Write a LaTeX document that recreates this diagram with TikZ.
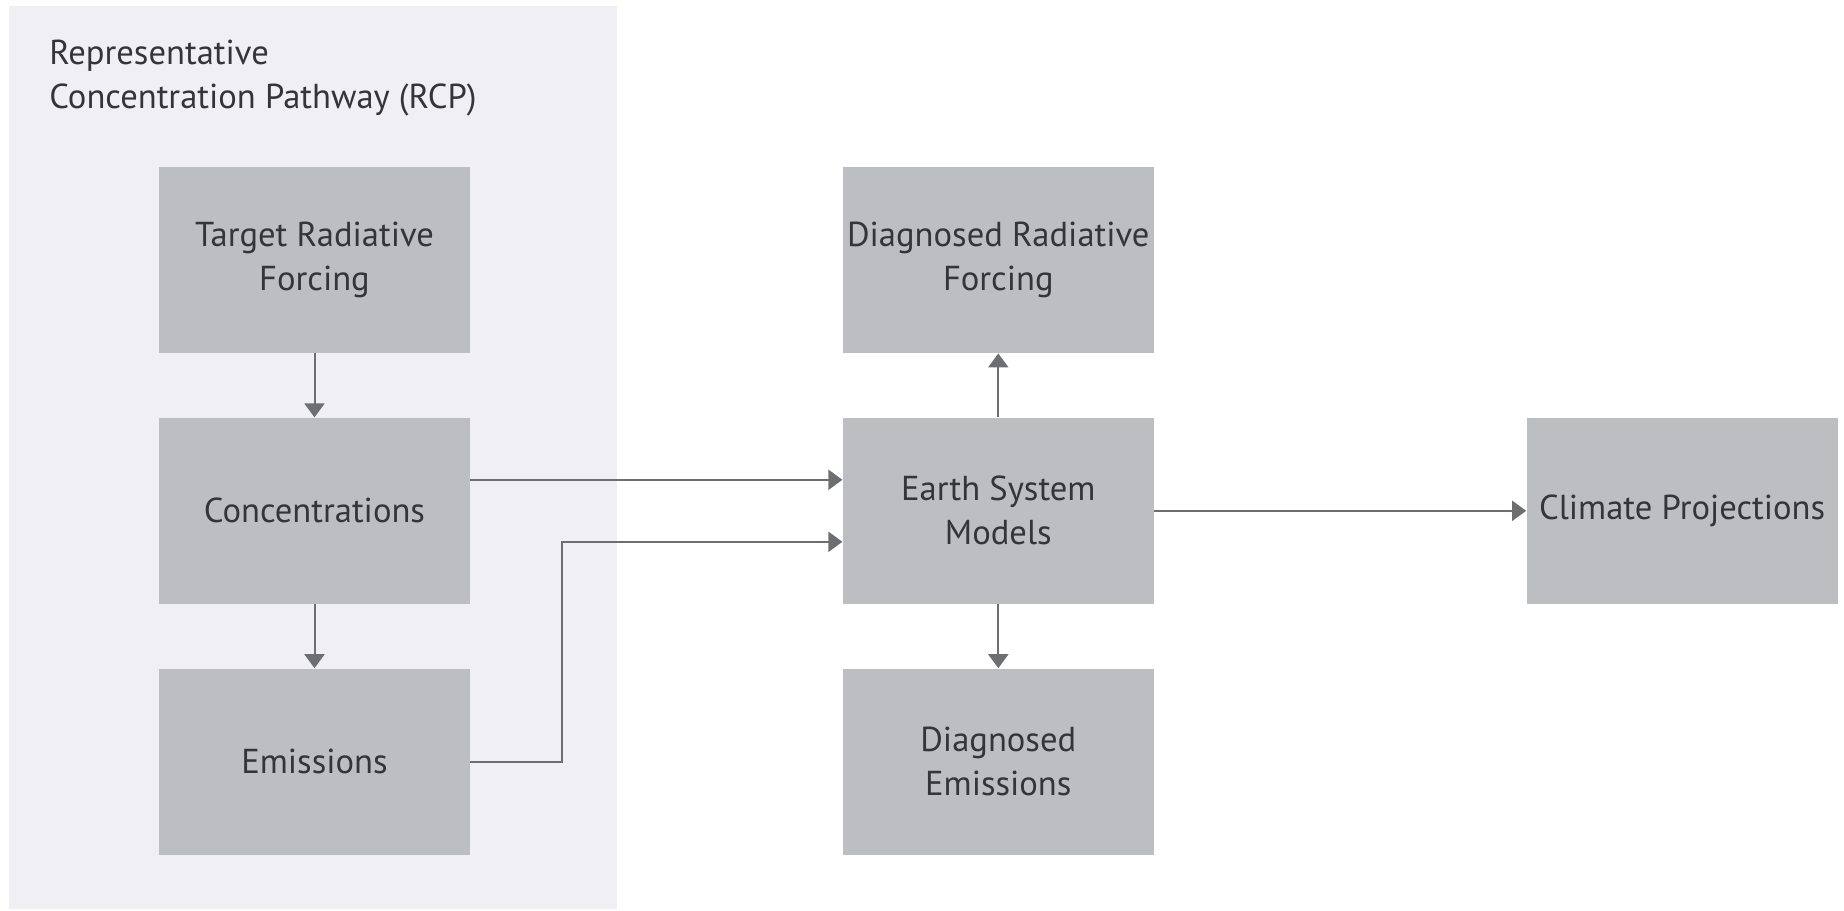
\documentclass[tikz,border=0pt]{standalone}
\usepackage{fontspec}
\setmainfont{PT Sans}
\usetikzlibrary{positioning,arrows.meta}
\definecolor{panelgrey}{HTML}{F0F0F4}
\definecolor{boxgrey}{HTML}{BDBEC1}
\definecolor{linegrey}{HTML}{6D6E71}
\definecolor{textgrey}{HTML}{353537}
\begin{document}
\begin{tikzpicture}[
    node distance=32pt and 186pt,
    block/.style={fill=boxgrey, align=center, minimum width=155.5pt, minimum height=93pt, inner sep=1pt, text=textgrey, font=\fontsize{17.3}{22}\selectfont},
    flow/.style={draw=linegrey, line width=1pt, -{Triangle[length=7pt,width=10pt]}}
]
\useasboundingbox (0,0) rectangle (922pt,-455.5pt);
\fill[panelgrey] (4.5pt,-3pt) rectangle (308.5pt,-454.5pt);
\node[anchor=west, align=left, inner sep=0pt, text=textgrey, font=\fontsize{17.3}{22}\selectfont] (rcp) at (24.5pt,-39pt) {Representative\\Concentration Pathway (RCP)};

\node[block] (target) at (157.25pt,-130pt) {Target Radiative\\Forcing};
\node[block, below=of target] (conc) {Concentrations};
\node[block, below=of conc] (emis) {Emissions};
\node[block, right=of conc] (esm) {Earth System\\Models};
\node[block, above=of esm] (diagrf) {Diagnosed Radiative\\Forcing};
\node[block, below=of esm] (diagem) {Diagnosed\\Emissions};
\node[block, right=of esm] (proj) {Climate Projections};

\draw[flow] (target) -- (conc);
\draw[flow] (conc) -- (emis);
\draw[flow] ([yshift=15.5pt]conc.east) -- ([yshift=15.5pt]esm.west);
\draw[flow] (emis.east) -- ++(46pt,0) |- ([yshift=-15.5pt]esm.west);
\draw[flow] (esm) -- (diagrf);
\draw[flow] (esm) -- (diagem);
\draw[flow] (esm) -- (proj);
\end{tikzpicture}
\end{document}
